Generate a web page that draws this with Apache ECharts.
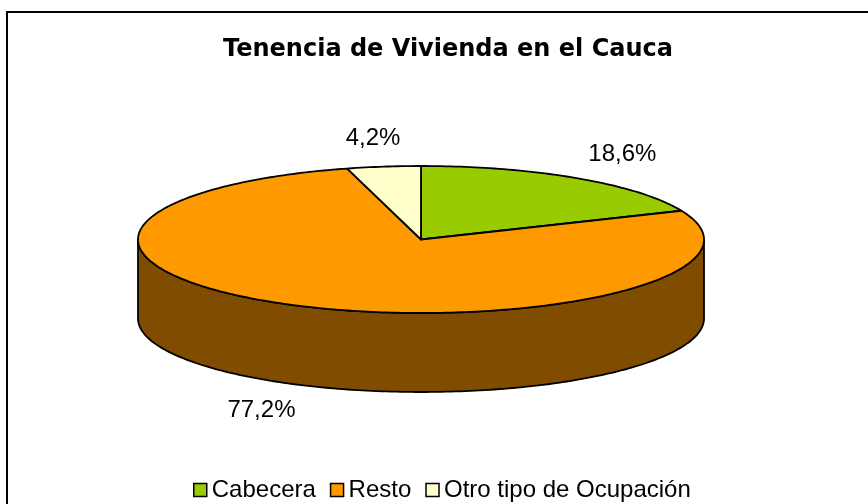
<!DOCTYPE html>
<html>
<head>
<meta charset="utf-8">
<script src="https://cdn.jsdelivr.net/npm/echarts@6/dist/echarts.min.js"></script>
<style>
  html, body { margin: 0; padding: 0; background: #fff; }
  #main { width: 868px; height: 504px; }
</style>
</head>
<body>
<div id="main"></div>
<script>
// datos del gráfico
const categories = ['Cabecera', 'Resto', 'Otro tipo de Ocupación'];
const values = [18.6, 77.2, 4.2];
const labels = ['18,6%', '77,2%', '4,2%'];
const colors = ['#99CC00', '#FF9900', '#FFFFCC'];
const sideColors = ['#4C6600', '#7F4C00', '#7F7F66'];

const total = values.reduce((a, b) => a + b, 0);

// geometría de la torta 3D (elipse)
const cx = 421, cy = 239.5, rx = 283, ry = 73.5, depth = 79;
const labRx = 365, labRy = 102;

function pt(t, dy) {
  const r = t * Math.PI / 180;
  return [cx + rx * Math.cos(r), cy - ry * Math.sin(r) + (dy || 0)];
}

function arc(from, to, dy) {
  const pts = [];
  const n = Math.max(2, Math.ceil(Math.abs(from - to)));
  for (let k = 0; k <= n; k++) {
    pts.push(pt(from + (to - from) * k / n, dy));
  }
  return pts;
}

function renderSlice(params, api) {
  const i = params.seriesIndex;
  let before = 0;
  for (let j = 0; j < i; j++) before += values[j];
  const start = 90 - 360 * before / total;
  const end = start - 360 * api.value(0) / total;
  const children = [];

  // lado visible (mitad frontal)
  for (let k = -2; k <= 1; k++) {
    const lo = Math.max(end, -180 + 360 * k);
    const hi = Math.min(start, 360 * k);
    if (hi > lo) {
      const pts = arc(hi, lo, 0).concat(arc(lo, hi, depth));
      children.push({
        type: 'polygon',
        shape: { points: pts },
        style: { fill: sideColors[i], stroke: '#000', lineWidth: 1.8 }
      });
    }
  }

  // cara superior
  children.push({
    type: 'polygon',
    shape: { points: [[cx, cy]].concat(arc(start, end, 0)) },
    style: { fill: colors[i], stroke: '#000', lineWidth: 1.8, lineJoin: 'round' }
  });

  // etiqueta
  const mid = (start + end) / 2 * Math.PI / 180;
  const s = Math.sin(mid);
  children.push({
    type: 'text',
    style: {
      text: labels[i],
      x: cx + labRx * Math.cos(mid),
      y: cy - labRy * s + (s < 0 ? depth : 0),
      fill: '#000',
      font: '24px "Liberation Sans", Arial, sans-serif',
      align: 'center',
      verticalAlign: 'middle',
      textAlign: 'center',
      textVerticalAlign: 'middle'
    }
  });

  return { type: 'group', children: children };
}

const myChart = echarts.init(document.getElementById('main'));

const option = {
  backgroundColor: '#fff',
  animation: false,
  graphic: [
    {
      type: 'rect',
      shape: { x: 7, y: 12, width: 900, height: 520 },
      style: { fill: 'none', stroke: '#000', lineWidth: 2 },
      z: 0
    },
    {
      type: 'text',
      style: {
        text: 'Tenencia de Vivienda en el Cauca',
        x: 448,
        y: 50,
        fill: '#000',
        font: 'bold 24px "DejaVu Sans", sans-serif',
        align: 'center',
        verticalAlign: 'middle',
        textAlign: 'center',
        textVerticalAlign: 'middle'
      }
    }
  ],
  legend: {
    data: categories,
    left: 188,
    top: 473,
    icon: 'rect',
    itemWidth: 13,
    itemHeight: 13,
    itemGap: 14,
    itemStyle: { borderColor: '#000', borderWidth: 1.5 },
    textStyle: {
      color: '#000',
      fontSize: 24,
      fontFamily: '"Liberation Sans", Arial, sans-serif'
    }
  },
  series: categories.map((name, i) => ({
    name: name,
    type: 'custom',
    coordinateSystem: 'none',
    itemStyle: { color: colors[i] },
    renderItem: renderSlice,
    data: [values[i]]
  }))
};

myChart.setOption(option);
</script>
</body>
</html>
